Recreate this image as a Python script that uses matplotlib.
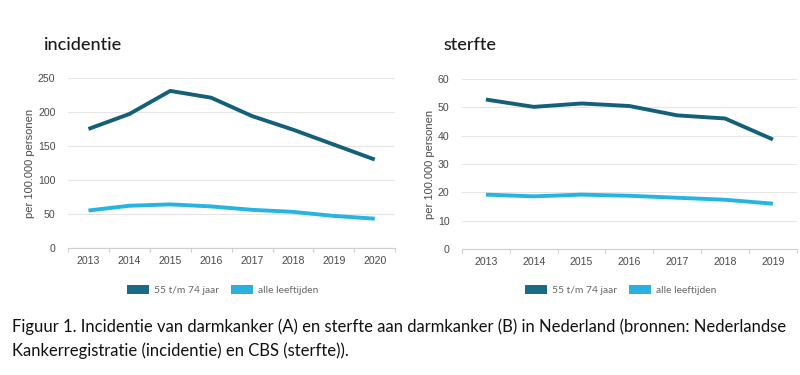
import matplotlib
matplotlib.use("Agg")
import matplotlib.pyplot as plt
from matplotlib.patches import Patch
import numpy as np

years_inc = ["2013", "2014", "2015", "2016", "2017", "2018", "2019", "2020"]
inc_55_74 = [175, 197, 231, 221, 194, 174, 152, 130]
inc_all = [55, 62, 64, 61, 56, 53, 47, 43]

years_mort = ["2013", "2014", "2015", "2016", "2017", "2018", "2019"]
mort_55_74 = [52.8, 50.2, 51.4, 50.5, 47.2, 46.1, 38.7]
mort_all = [19.2, 18.6, 19.2, 18.8, 18.1, 17.4, 16.0]

dark = "#14607b"
light = "#27b4e3"
dark_patch = "#1b6a86"
light_patch = "#2ab0e0"

fig = plt.figure(figsize=(8, 3.75), dpi=100)
fig.patch.set_facecolor("white")

def setup(ax, years, s1, s2, ymax, step):
    x = np.arange(len(years))
    ax.plot(x, s1, color=dark, lw=2.8, solid_capstyle="butt", zorder=3)
    ax.plot(x, s2, color=light, lw=2.8, solid_capstyle="butt", zorder=3)
    ax.set_xlim(-0.5, len(years) - 0.5)
    ax.set_ylim(0, ymax)
    ax.set_yticks(np.arange(0, ymax + 0.1, step))
    ax.set_xticks(x)
    ax.set_xticklabels(years)
    ax.set_xticks(np.arange(-0.5, len(years)), minor=True)
    ax.tick_params(axis="x", which="major", length=0, pad=6, labelsize=7.6, labelcolor="#4a4a4a")
    ax.tick_params(axis="x", which="minor", length=3, color="#d0d0d0", width=0.8)
    ax.tick_params(axis="y", length=0, pad=9, labelsize=7.6, labelcolor="#4a4a4a")
    for lbl in ax.get_xticklabels() + ax.get_yticklabels():
        lbl.set_family("Liberation Sans")
    ax.grid(axis="y", color="#e6e6e6", lw=0.8)
    ax.set_axisbelow(True)
    for s in ["top", "right", "left"]:
        ax.spines[s].set_visible(False)
    ax.spines["bottom"].set_color("#d0d0d0")
    ax.spines["bottom"].set_linewidth(0.8)
    ax.set_ylabel("per 100.000 personen", fontsize=8, color="#4a4a4a",
                  family="Liberation Sans", labelpad=2)

ax1 = fig.add_axes([0.085, 0.339, 0.409, 0.453])
setup(ax1, years_inc, inc_55_74, inc_all, 250, 50)
ax2 = fig.add_axes([0.5775, 0.336, 0.4185, 0.453])
setup(ax2, years_mort, mort_55_74, mort_all, 60, 10)

fig.text(43 / 800, 1 - 45 / 375, "incidentie", fontsize=13, family="Lato",
         color="#1a1a1a", va="center", ha="left", weight="medium")
fig.text(443 / 800, 1 - 45 / 375, "sterfte", fontsize=13, family="Lato",
         color="#1a1a1a", va="center", ha="left", weight="medium")

handles = [Patch(facecolor=dark_patch, edgecolor="none", label="55 t/m 74 jaar"),
           Patch(facecolor=light_patch, edgecolor="none", label="alle leeftijden")]
for cx in (223 / 800, 621 / 800):
    leg = fig.legend(handles=handles, loc="center", bbox_to_anchor=(cx, 1 - 290 / 375),
                     ncol=2, frameon=False, handlelength=2.1, handleheight=1.0,
                     handletextpad=0.5, columnspacing=1.2,
                     prop={"family": "Lato", "size": 7.4})
    for t in leg.get_texts():
        t.set_color("#666666")

fig.text(12 / 800, 1 - 327 / 375,
         "Figuur 1. Incidentie van darmkanker (A) en sterfte aan darmkanker (B) in Nederland (bronnen: Nederlandse",
         fontsize=12.0, family="Lato", color="#111111", va="center", ha="left")
fig.text(12 / 800, 1 - 351 / 375,
         "Kankerregistratie (incidentie) en CBS (sterfte)).",
         fontsize=12.0, family="Lato", color="#111111", va="center", ha="left")

fig.savefig("out.png", dpi=100, facecolor="white")
